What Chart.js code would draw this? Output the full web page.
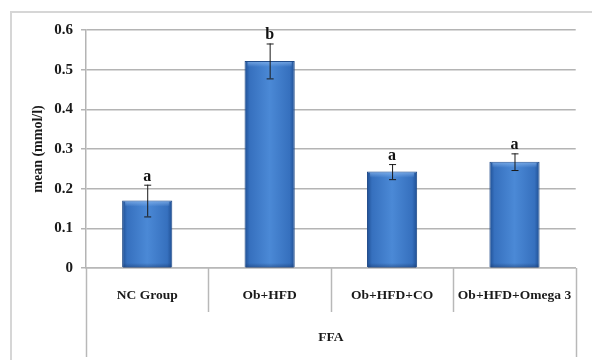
<!DOCTYPE html>
<html>
<head>
<meta charset="utf-8">
<script src="https://cdn.jsdelivr.net/npm/chart.js@4/dist/chart.umd.min.js"></script>
<style>
  html, body { margin: 0; padding: 0; background: #ffffff; }
  #wrap { width: 592px; height: 360px; position: relative; }
</style>
</head>
<body>
<div id="wrap"><canvas id="c" width="592" height="360"></canvas></div>
<script>
const categories = ["NC Group", "Ob+HFD", "Ob+HFD+CO", "Ob+HFD+Omega 3"];
const groupLabel = "FFA";
const means = [0.17, 0.522, 0.243, 0.268];
const errors = [0.04, 0.044, 0.019, 0.021];
const letters = ["a", "b", "a", "a"];
const yTicks = [0, 0.1, 0.2, 0.3, 0.4, 0.5, 0.6];
const yTitle = "mean (mmol/l)";

const SERIF = "'Liberation Serif', 'DejaVu Serif', serif";
const BAR_PCT = 0.41;

function barGradient(ctx) {
  const chart = ctx.chart;
  const xs = chart.scales && chart.scales.x;
  if (!xs || ctx.dataIndex === undefined || !isFinite(xs.getPixelForValue(ctx.dataIndex))) return '#3b78c8';
  const step = xs.getPixelForValue(1) - xs.getPixelForValue(0);
  const cx = xs.getPixelForValue(ctx.dataIndex);
  const w = step * BAR_PCT;
  const g = chart.ctx.createLinearGradient(cx - w / 2, 0, cx + w / 2, 0);
  g.addColorStop(0, '#1f4f93');
  g.addColorStop(0.1, '#3670be');
  g.addColorStop(0.5, '#4b89d6');
  g.addColorStop(0.9, '#3670be');
  g.addColorStop(1, '#1f4f93');
  return g;
}

const decor = {
  id: 'decor',
  beforeDraw(chart) {
    const c = chart.ctx;
    c.save();
    c.strokeStyle = '#d6d6d6';
    c.lineWidth = 2;
    c.beginPath();
    c.moveTo(11, 400);
    c.lineTo(11, 12);
    c.lineTo(600, 12);
    c.stroke();
    c.restore();
  },
  afterDatasetsDraw(chart) {
    const c = chart.ctx;
    const xs = chart.scales.x, ys = chart.scales.y;
    const area = chart.chartArea;
    const step = (xs.getPixelForValue(1) - xs.getPixelForValue(0));
    c.save();
    // top bevel highlight on bars
    means.forEach((m, i) => {
      const x = xs.getPixelForValue(i);
      const w = step * BAR_PCT;
      const yt = ys.getPixelForValue(m);
      const g = c.createLinearGradient(0, yt, 0, yt + 6);
      g.addColorStop(0, 'rgba(140,185,240,0.75)');
      g.addColorStop(1, 'rgba(140,185,240,0)');
      c.fillStyle = g;
      c.fillRect(x - w / 2 + 3, yt + 1, w - 6, 6);
      const gb = c.createLinearGradient(0, area.bottom - 5, 0, area.bottom);
      gb.addColorStop(0, 'rgba(20,50,100,0)');
      gb.addColorStop(1, 'rgba(20,50,100,0.5)');
      c.fillStyle = gb;
      c.fillRect(x - w / 2 + 1, area.bottom - 5, w - 2, 5);
    });
    // error bars and letters
    c.strokeStyle = '#1a1a1a';
    c.lineWidth = 1;
    means.forEach((m, i) => {
      const x = xs.getPixelForValue(i);
      const yt = ys.getPixelForValue(m + errors[i]);
      const yb = ys.getPixelForValue(m - errors[i]);
      c.beginPath();
      c.moveTo(x + 0.5, yt); c.lineTo(x + 0.5, yb);
      c.moveTo(x - 3, yt + 0.5); c.lineTo(x + 4, yt + 0.5);
      c.moveTo(x - 3, yb + 0.5); c.lineTo(x + 4, yb + 0.5);
      c.stroke();
      c.fillStyle = '#111';
      c.font = "bold 16px " + SERIF;
      c.textAlign = 'center';
      c.textBaseline = 'alphabetic';
      c.fillText(letters[i], x, yt - 4);
    });
    // category separators and outer group lines
    c.strokeStyle = '#b8b8b8';
    c.lineWidth = 1.5;
    const n = categories.length;
    for (let i = 0; i <= n; i++) {
      const x = xs.getPixelForValue(i) - step / 2;
      const len = (i === 0 || i === n) ? 89 : 44;
      c.beginPath();
      c.moveTo(Math.round(x) + 0.5, area.bottom);
      c.lineTo(Math.round(x) + 0.5, area.bottom + len);
      c.stroke();
    }
    c.restore();
  }
};

new Chart(document.getElementById('c'), {
  type: 'bar',
  data: {
    labels: categories,
    datasets: [{
      data: means,
      backgroundColor: barGradient,
      borderColor: '#1f4a88',
      borderWidth: 1,
      barPercentage: BAR_PCT,
      categoryPercentage: 1.0
    }]
  },
  options: {
    responsive: false,
    animation: false,
    devicePixelRatio: 1,
    layout: { padding: { top: 30, right: 15, left: 0, bottom: 0 } },
    plugins: { legend: { display: false }, tooltip: { enabled: false }, title: { display: false } },
    scales: {
      x: {
        offset: true,
        grid: { display: false, drawTicks: false },
        border: { display: true, color: '#b8b8b8', width: 1.5 },
        ticks: { color: '#1a1a1a', font: { family: SERIF, size: 13.5, weight: 'bold' }, padding: 19, maxRotation: 0, autoSkip: false },
        title: { display: true, text: groupLabel, color: '#1a1a1a', font: { family: SERIF, size: 13.5, weight: 'bold' }, padding: { top: 0, bottom: 14 } },
        afterFit(scale) { scale.height = 92; }
      },
      y: {
        min: 0, max: 0.6,
        afterBuildTicks(scale) { scale.ticks = yTicks.map(v => ({ value: v })); },
        grid: { color: '#b4b4b4', lineWidth: 1.5, tickLength: 5, drawTicks: true },
        border: { display: true, color: '#b4b4b4', width: 1.5 },
        ticks: {
          color: '#1a1a1a', font: { family: SERIF, size: 15, weight: 'bold' }, padding: 8,
          callback: (v) => String(Math.round(v * 10) / 10)
        },
        title: { display: true, text: yTitle, color: '#1a1a1a', font: { family: SERIF, size: 14, weight: 'bold' }, padding: { top: 30, bottom: 0 } },
        afterFit(scale) { scale.width = 86; }
      }
    }
  },
  plugins: [decor]
});
</script>
</body>
</html>
